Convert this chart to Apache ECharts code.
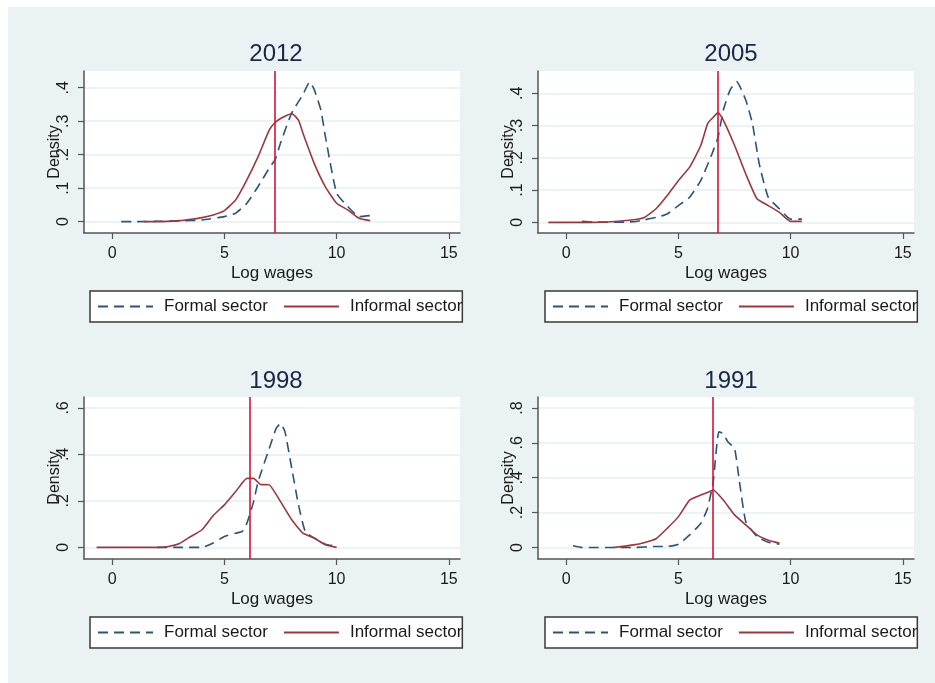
<!DOCTYPE html>
<html>
<head>
<meta charset="utf-8">
<script src="https://cdn.jsdelivr.net/npm/echarts@6/dist/echarts.min.js"></script>
<style>
  html, body { margin: 0; padding: 0; background: #fff; }
  #main { position: absolute; left: 8px; top: 7px; width: 927px; height: 676px; }
</style>
</head>
<body>
<div id="main"></div>
<script>
// years shown in the four panels
var years = ['2012', '2005', '1998', '1991'];
var xTicks = [0, 5, 10, 15];
var yTicks = [
  [0, 0.1, 0.2, 0.3, 0.4],
  [0, 0.1, 0.2, 0.3, 0.4],
  [0, 0.2, 0.4, 0.6],
  [0, 0.2, 0.4, 0.6, 0.8]
];
// mean log wage of the informal sector (vertical line)
var meanLine = [7.26, 6.77, 6.15, 6.55];

// kernel densities: [log wage, density]
var formal2012 = [[0.4,0],[1,0],[2,0.001],[3,0.002],[4,0.005],[5,0.015],[5.5,0.025],[6,0.055],[6.5,0.105],[7,0.16],[7.26,0.185],[7.5,0.235],[8,0.325],[8.5,0.38],[8.8,0.417],[9,0.395],[9.3,0.333],[9.5,0.254],[10,0.085],[10.5,0.045],[11,0.015],[11.5,0.018]];
var informal2012 = [[1.4,0],[2,0],[3,0.003],[3.5,0.007],[4,0.012],[4.5,0.02],[5,0.033],[5.5,0.065],[6,0.125],[6.5,0.194],[7,0.274],[7.26,0.296],[7.5,0.308],[7.7,0.315],[8,0.323],[8.3,0.303],[8.5,0.264],[9,0.174],[9.5,0.104],[10,0.055],[10.5,0.035],[11,0.01],[11.5,0.003]];

var formal2005 = [[0.7,0.003],[1,0.002],[2,0],[3,0.002],[3.5,0.008],[4,0.015],[4.5,0.026],[5,0.052],[5.5,0.078],[6,0.13],[6.5,0.213],[6.77,0.265],[7,0.348],[7.3,0.41],[7.6,0.436],[8,0.379],[8.3,0.306],[8.6,0.182],[9,0.078],[9.5,0.042],[10,0.01],[10.5,0.01]];
var informal2005 = [[-0.8,0],[0,0],[1,0],[2,0.002],[3,0.008],[3.5,0.016],[4,0.042],[4.5,0.083],[5,0.13],[5.5,0.171],[6,0.239],[6.3,0.306],[6.5,0.322],[6.77,0.34],[7,0.317],[7.5,0.239],[8,0.15],[8.5,0.073],[9,0.052],[9.5,0.031],[10,0.003],[10.5,0.003]];

var formal1998 = [[2,0],[3,0],[4,0],[4.5,0.019],[5,0.047],[5.5,0.061],[5.8,0.069],[6,0.104],[6.3,0.197],[6.5,0.283],[7,0.426],[7.3,0.511],[7.5,0.533],[7.7,0.497],[8,0.34],[8.3,0.183],[8.6,0.069],[9,0.04],[9.5,0.014],[10,0.004]];
var informal1998 = [[-0.7,0],[0,0],[1,0],[2,0],[2.5,0.004],[3,0.017],[3.5,0.047],[4,0.076],[4.5,0.137],[5,0.183],[5.5,0.24],[6,0.297],[6.3,0.297],[6.6,0.271],[7,0.269],[7.5,0.197],[8,0.119],[8.5,0.061],[9,0.04],[9.5,0.011],[10,0]];

var formal1991 = [[0.3,0.01],[0.7,0],[1,0],[2,0],[3,0],[4,0.006],[4.5,0.006],[5,0.019],[5.5,0.072],[6,0.139],[6.3,0.225],[6.55,0.377],[6.8,0.663],[7,0.653],[7.2,0.606],[7.5,0.568],[7.7,0.396],[8,0.149],[8.5,0.063],[9,0.03],[9.5,0.019]];
var informal1991 = [[2.1,0],[3,0.015],[3.5,0.029],[4,0.05],[4.5,0.11],[5,0.177],[5.5,0.272],[6,0.301],[6.3,0.316],[6.55,0.33],[7,0.272],[7.5,0.187],[8,0.13],[8.5,0.072],[9,0.042],[9.5,0.025]];

var formalData = [formal2012, formal2005, formal1998, formal1991];
var informalData = [informal2012, informal2005, informal1998, informal1991];

var xRange = [-1.26, 15.5];
var yRange = [[-0.034, 0.45], [-0.033, 0.469], [-0.05, 0.647], [-0.066, 0.863]];

// panel layout
var panels = [
  { left: 76, top: 64, titleX: 263, titleY: 30, legX: 82, legY: 284 },
  { left: 530, top: 64, titleX: 718, titleY: 30, legX: 537, legY: 284 },
  { left: 76, top: 390, titleX: 263, titleY: 357, legX: 82, legY: 610 },
  { left: 530, top: 390, titleX: 718, titleY: 357, legX: 537, legY: 610 }
];

var FONT = 'Liberation Sans, Arial, sans-serif';
var navy = '#2c5477';
var maroon = '#973a40';
var red = '#d3143c';

function fmtY(v) {
  if (v === 0) return '0';
  return String(+v.toFixed(2)).replace(/^0/, '');
}

var myChart = echarts.init(document.getElementById('main'));
var option = {
  backgroundColor: '#eaf2f3',
  animation: false,
  title: panels.map(function (p, i) {
    return {
      text: years[i],
      left: p.titleX,
      top: p.titleY,
      textAlign: 'center',
      textStyle: { fontFamily: FONT, fontSize: 24, fontWeight: 'normal', color: '#1c2645' }
    };
  }),
  legend: panels.map(function (p) {
    return {
      left: p.legX,
      top: p.legY,
      data: ['Formal sector', 'Informal sector'],
      backgroundColor: '#fff',
      borderColor: '#3a3a3a',
      borderWidth: 1.5,
      borderRadius: 0,
      padding: [7, 0, 7, 7],
      itemWidth: 55,
      itemHeight: 14,
      itemGap: 15,
      selectedMode: false,
      itemStyle: { opacity: 0 },
      textStyle: { fontFamily: FONT, fontSize: 17, color: '#1a1a1a', padding: [0, 0, 0, 6] }
    };
  }),
  grid: panels.map(function (p) {
    return {
      left: p.left, top: p.top, width: 376, height: 162,
      show: true, backgroundColor: '#fff', borderWidth: 0
    };
  }),
  xAxis: panels.map(function (p, i) {
    return {
      type: 'value',
      gridIndex: i,
      min: xRange[0],
      max: xRange[1],
      name: 'Log wages',
      nameLocation: 'middle',
      nameGap: 32,
      nameTextStyle: { fontFamily: FONT, fontSize: 17, color: '#1a1a1a' },
      axisLine: { onZero: false, lineStyle: { color: '#555', width: 1.5 } },
      axisTick: { show: true, length: 6, customValues: xTicks, lineStyle: { color: '#555', width: 1.2 } },
      axisLabel: { customValues: xTicks, margin: 13, fontFamily: FONT, fontSize: 16, color: '#1a1a1a' },
      splitLine: { show: false }
    };
  }),
  yAxis: panels.map(function (p, i) {
    return {
      type: 'value',
      gridIndex: i,
      min: yRange[i][0],
      max: yRange[i][1],
      name: 'Density',
      nameLocation: 'middle',
      nameRotate: 90,
      nameGap: 21,
      nameMoveOverlap: false,
      nameTextStyle: { fontFamily: FONT, fontSize: 16, color: '#1a1a1a' },
      axisLine: { show: true, onZero: false, lineStyle: { color: '#555', width: 1.5 } },
      axisTick: { show: true, length: 6, customValues: yTicks[i], lineStyle: { color: '#555', width: 1.2 } },
      axisLabel: { customValues: yTicks[i], rotate: 90, margin: 12, fontFamily: FONT, fontSize: 16, color: '#1a1a1a', formatter: fmtY },
      splitLine: { show: true, lineStyle: { color: '#e6eff1', width: 1.5 } }
    };
  }),
  series: []
};

panels.forEach(function (p, i) {
  option.series.push({
    name: 'Formal sector',
    type: 'line',
    xAxisIndex: i,
    yAxisIndex: i,
    data: formalData[i],
    symbol: 'none',
    smooth: 0.15,
    lineStyle: { color: navy, width: 1.6, type: [10, 6] },
    itemStyle: { color: navy }
  });
  option.series.push({
    name: 'Informal sector',
    type: 'line',
    xAxisIndex: i,
    yAxisIndex: i,
    data: informalData[i],
    symbol: 'none',
    smooth: 0.15,
    lineStyle: { color: maroon, width: 1.6 },
    itemStyle: { color: maroon },
    markLine: {
      silent: true,
      symbol: 'none',
      label: { show: false },
      lineStyle: { color: red, width: 1.6, type: 'solid' },
      data: [{ xAxis: meanLine[i] }]
    }
  });
});

myChart.setOption(option);
</script>
</body>
</html>
